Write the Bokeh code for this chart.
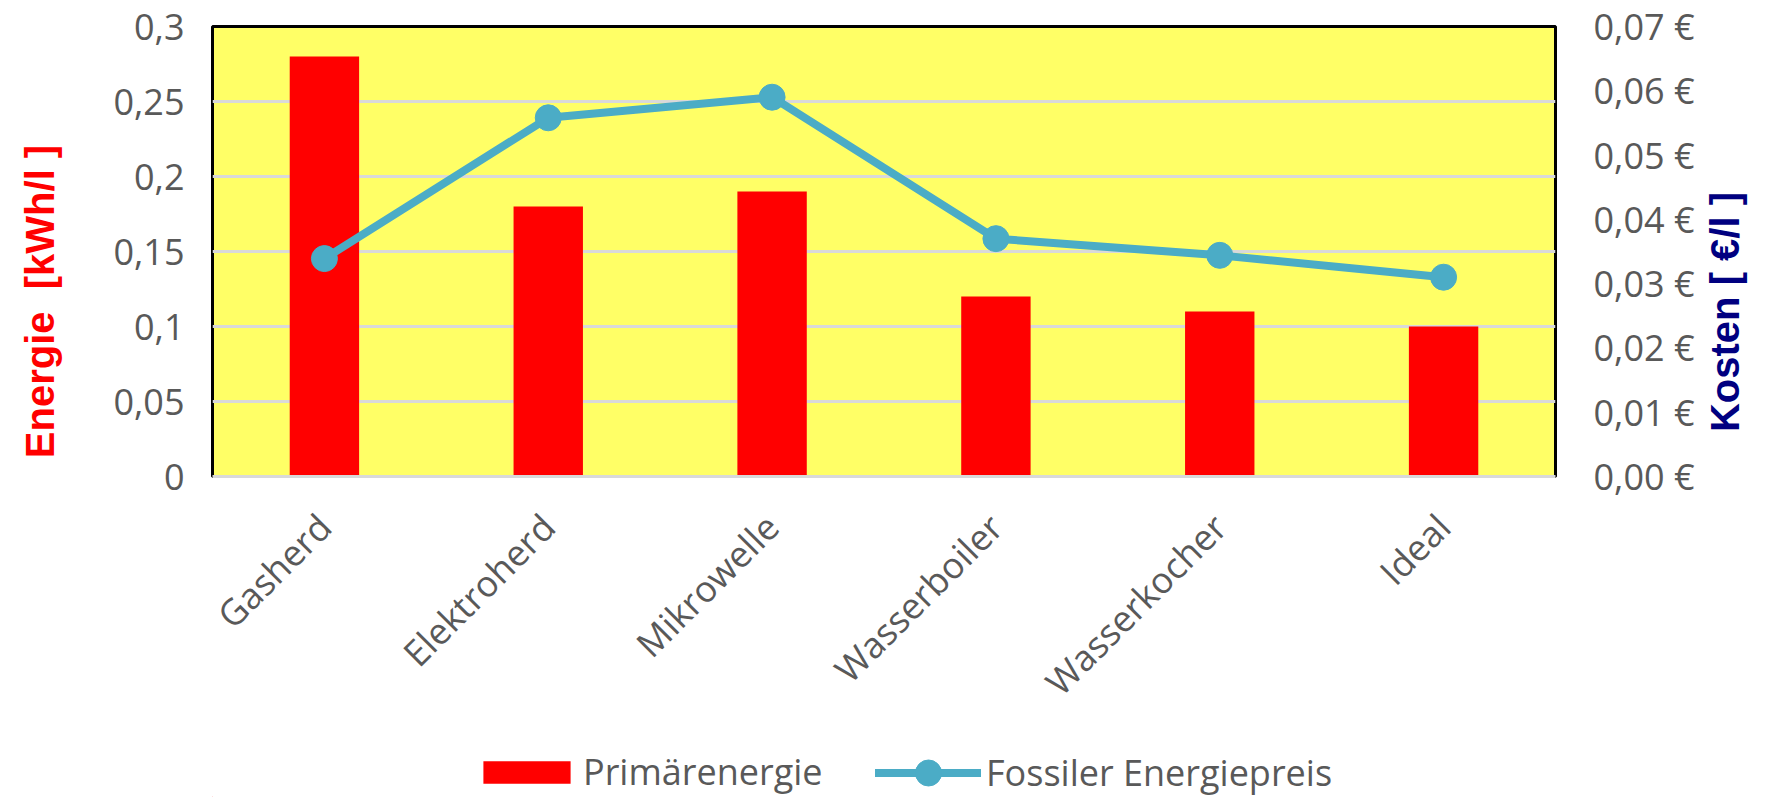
import math
from bokeh.plotting import figure
from bokeh.layouts import column
from bokeh.models import (Range1d, LinearAxis, FixedTicker, Legend, LegendItem,
                          FactorRange, ColumnDataSource)
from bokeh.embed import file_html
from bokeh.resources import INLINE

categories = ["Gasherd", "Elektroherd", "Mikrowelle", "Wasserboiler", "Wasserkocher", "Ideal"]
primaerenergie = [0.28, 0.18, 0.19, 0.12, 0.11, 0.10]
energiepreis = [0.0339, 0.0558, 0.0590, 0.0370, 0.0344, 0.0310]

left_ticks = [0, 0.05, 0.1, 0.15, 0.2, 0.25, 0.3]
left_tick_labels = ["0", "0,05", "0,1", "0,15", "0,2", "0,25", "0,3"]
right_ticks = [0, 0.01, 0.02, 0.03, 0.04, 0.05, 0.06, 0.07]
right_tick_labels = ["0,00 €", "0,01 €", "0,02 €", "0,03 €", "0,04 €", "0,05 €", "0,06 €", "0,07 €"]

FONT = "Open Sans"
GREY = "#595959"
RED = "#FF0000"
BLUE = "#4BACC6"
NB = "\u00a0"

src = ColumnDataSource(dict(cat=categories, energy=primaerenergie, price=energiepreis))

W = 1771
MAIN_H = 740
LEG_H = 57
FRAME_L = 212

p = figure(x_range=FactorRange(*categories), y_range=Range1d(0, 0.3),
           width=W, height=MAIN_H, output_backend="svg", toolbar_location=None,
           min_border_left=FRAME_L, min_border_right=214, min_border_top=26,
           min_border_bottom=MAIN_H - 476)
p.extra_y_ranges = {"cost": Range1d(0, 0.07)}

p.background_fill_color = "#FFFF66"
p.border_fill_color = "white"
p.outline_line_color = "black"
p.outline_line_width = 3

p.xgrid.grid_line_color = None
p.ygrid.grid_line_color = "#D9D9D9"
p.ygrid.grid_line_width = 3

bars = p.vbar(x="cat", top="energy", width=0.31, source=src,
              fill_color=RED, line_color=None)
line = p.line(x="cat", y="price", source=src, y_range_name="cost",
              line_color=BLUE, line_width=8, line_join="round", line_cap="round")
dots = p.scatter(x="cat", y="price", source=src, y_range_name="cost",
                 size=26, fill_color=BLUE, line_color=BLUE)

# left axis
ya = p.yaxis[0]
ya.ticker = FixedTicker(ticks=left_ticks)
ya.major_label_overrides = {t: l for t, l in zip(left_ticks, left_tick_labels)}
ya.axis_line_color = None
ya.major_tick_line_color = None
ya.minor_tick_line_color = None
ya.major_label_standoff = 22
ya.major_label_text_font = FONT
ya.major_label_text_font_size = "36px"
ya.major_label_text_color = GREY
ya.axis_label = "Energie" + NB + " [kWh/l ]" + NB * 9
ya.axis_label_text_font = "Liberation Sans"
ya.axis_label_text_font_style = "bold"
ya.axis_label_text_font_size = "40px"
ya.axis_label_text_color = RED
ya.axis_label_standoff = 48

# right axis
ra = LinearAxis(y_range_name="cost", ticker=FixedTicker(ticks=right_ticks))
ra.major_label_overrides = {t: l for t, l in zip(right_ticks, right_tick_labels)}
ra.axis_line_color = None
ra.major_tick_line_color = None
ra.minor_tick_line_color = None
ra.major_label_standoff = 32
ra.major_label_text_font = FONT
ra.major_label_text_font_size = "36px"
ra.major_label_text_color = GREY
ra.axis_label_orientation = math.pi / 2
ra.axis_label_align = "start"
ra.axis_label = NB * 4 + "Kosten [ €/l ]"
ra.axis_label_text_font = "Liberation Sans"
ra.axis_label_text_font_style = "bold"
ra.axis_label_text_font_size = "40px"
ra.axis_label_text_color = "#000080"
ra.axis_label_standoff = 27
p.add_layout(ra, "right")

# x axis
xa = p.xaxis[0]
xa.axis_line_color = "#D9D9D9"
xa.axis_line_width = 3
xa.major_tick_line_color = None
xa.minor_tick_line_color = None
xa.major_label_orientation = math.pi / 4
xa.major_label_standoff = 38
xa.major_label_text_font = FONT
xa.major_label_text_font_size = "36px"
xa.major_label_text_color = GREY

# legend strip below the chart (its frame is aligned with the chart frame)
lf = figure(width=W, height=LEG_H, x_range=Range1d(0, W), y_range=Range1d(0, LEG_H),
            output_backend="svg", toolbar_location=None,
            x_axis_location=None, y_axis_location=None, min_border=0)
lf.outline_line_color = None
lf.grid.grid_line_color = None
lf.background_fill_color = "white"
lb = lf.vbar(x=[-500], top=[1], width=1, fill_color=RED, line_color=None)
ll = lf.line(x=[-500, -499], y=[0, 0], line_color=BLUE, line_width=8, line_cap="round")
ls = lf.scatter(x=[-500], y=[0], size=26, fill_color=BLUE, line_color=BLUE)

common = dict(orientation="horizontal", padding=0, margin=0, label_height=28,
              border_line_color=None, background_fill_alpha=0,
              label_text_font=FONT, label_text_font_size="36px",
              label_text_color=GREY)
leg1 = Legend(items=[LegendItem(label="Primärenergie", renderers=[lb])],
              location=(472 - FRAME_L, 1), glyph_width=109, glyph_height=28,
              label_standoff=2, **common)
leg2 = Legend(items=[LegendItem(label="Fossiler Energiepreis", renderers=[ll, ls])],
              location=(875 - FRAME_L, -8), glyph_width=106, glyph_height=65,
              label_standoff=5, **common)
lf.add_layout(leg1, "center")
lf.add_layout(leg2, "center")

open("out.html", "w").write(file_html(column(p, lf, spacing=0), INLINE))
